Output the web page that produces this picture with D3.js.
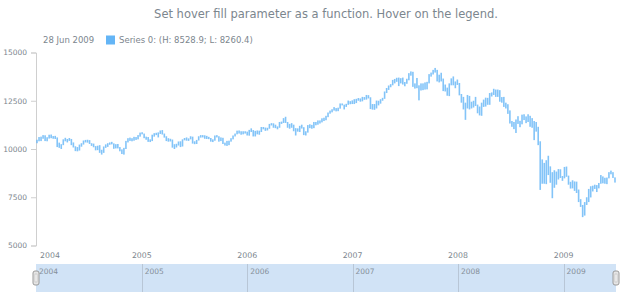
<!DOCTYPE html>
<html>
<head>
<meta charset="utf-8">
<script src="https://cdn.jsdelivr.net/npm/d3@7"></script>
<style>
  html, body { margin: 0; padding: 0; background: #fff; }
  svg { display: block; font-family: "DejaVu Sans", Verdana, sans-serif; }
</style>
</head>
<body>
<svg id="chart" width="620" height="300"></svg>
<script>
// weekly points, first one on 4 Jan 2004, last one on 28 Jun 2009
const firstWeek = new Date(2004, 0, 4);

const high = [
  // 2004
  10480, 10620, 10640, 10720, 10710, 10610, 10740, 10750, 10670, 10680, 10600, 10330, 10250,
  10500, 10580, 10520, 10570, 10520, 10340, 10140, 10100, 10230, 10300, 10440, 10470, 10480,
  10460, 10300, 10280, 10150, 10170, 10200, 9960, 10130, 10240, 10300, 10340, 10370, 10290,
  10250, 10260, 10100, 9980, 10060, 10420, 10560, 10590, 10560, 10630, 10620, 10720, 10850, 10870,
  // 2005
  10800, 10640, 10620, 10500, 10740, 10820, 10840, 10860, 10960, 10980, 10800, 10660, 10560,
  10530, 10490, 10250, 10270, 10390, 10400, 10500, 10570, 10600, 10550, 10660, 10640, 10400,
  10470, 10660, 10720, 10720, 10710, 10680, 10630, 10570, 10500, 10700, 10720, 10660, 10600,
  10580, 10330, 10420, 10430, 10560, 10700, 10800, 10950, 10960, 10920, 10920, 10920, 10900,
  // 2006
  10990, 11070, 10980, 10940, 10960, 10950, 11140, 11140, 11110, 11100, 11300, 11340, 11330,
  11260, 11170, 11400, 11420, 11600, 11670, 11400, 11300, 11340, 11260, 11080, 11070, 11200,
  11260, 11130, 10920, 11240, 11280, 11250, 11400, 11400, 11480, 11480, 11590, 11620, 11720,
  11890, 11990, 12060, 12170, 12120, 12140, 12360, 12360, 12300, 12340, 12510, 12480, 12520,
  // 2007
  12580, 12600, 12640, 12620, 12700, 12690, 12800, 12790, 12680, 12330, 12330, 12510, 12500,
  12580, 12650, 12980, 13160, 13290, 13360, 13580, 13630, 13690, 13700, 13670, 13700, 13470,
  13640, 13930, 14020, 14000, 13400, 13680, 13300, 13400, 13400, 13450, 13480, 13880, 13960,
  14100, 14200, 14100, 13850, 13950, 13650, 13340, 13180, 13400, 13660, 13760, 13500, 13600,
  // 2008
  13420, 12850, 12700, 12400, 12800, 12750, 12450, 12500, 12700, 12300, 12200, 12400, 12560,
  12660, 12650, 12900, 12930, 13120, 13080, 13080, 13050, 12690, 12700, 12400, 12320, 12000,
  11450, 11400, 11530, 11700, 11460, 11780, 11800, 11690, 11800, 11720, 11600, 11450, 11400,
  11150, 10400, 9460, 9280, 9420, 9650, 9100, 8800, 8900, 8830, 8960, 8950, 8600,
  // 2009
  9070, 9090, 8620, 8300, 8380, 8320, 8310, 7900, 7400, 7100, 7250, 7500, 7930,
  8070, 8100, 8150, 8130, 8240, 8650, 8580, 8510, 8520, 8800, 8880, 8800, 8528.9
];

const low = [
  // 2004
  10300, 10400, 10410, 10530, 10410, 10400, 10540, 10560, 10530, 10520, 10100, 10060, 10000,
  10200, 10400, 10340, 10420, 10200, 10080, 9890, 9880, 9920, 10120, 10230, 10340, 10330,
  10260, 10160, 10090, 9930, 9940, 9800, 9710, 9800, 10060, 10110, 10220, 10240, 10010,
  10030, 10030, 9880, 9740, 9710, 10000, 10340, 10420, 10400, 10430, 10470, 10500, 10640, 10760,
  // 2005
  10560, 10480, 10370, 10360, 10410, 10640, 10720, 10600, 10780, 10750, 10590, 10410, 10380,
  10390, 10070, 10000, 10080, 10180, 10100, 10130, 10450, 10430, 10420, 10500, 10280, 10250,
  10260, 10440, 10590, 10600, 10530, 10520, 10510, 10380, 10360, 10430, 10600, 10380, 10410,
  10260, 10180, 10160, 10200, 10380, 10500, 10650, 10760, 10800, 10740, 10760, 10800, 10700,
  // 2006
  10690, 10880, 10650, 10650, 10760, 10740, 10880, 11020, 10940, 10960, 11050, 11220, 11100,
  11080, 11020, 11100, 11300, 11350, 11350, 11100, 11050, 11100, 10920, 10700, 10900, 10880,
  11060, 10720, 10700, 10850, 11080, 11050, 11080, 11230, 11260, 11320, 11380, 11450, 11490,
  11650, 11830, 11900, 11990, 11950, 11960, 12090, 12260, 12050, 12180, 12290, 12320, 12330,
  // 2007
  12330, 12380, 12500, 12450, 12470, 12550, 12560, 12620, 12070, 12040, 12030, 12100, 12260,
  12350, 12500, 12600, 12900, 13060, 13200, 13300, 13400, 13480, 13260, 13400, 13340, 13250,
  13380, 13560, 13800, 13220, 13130, 13150, 12520, 13030, 13050, 13080, 13090, 13400, 13750,
  13860, 13960, 13500, 13450, 13500, 13000, 12980, 12760, 12740, 13300, 13300, 13150, 13320,
  // 2008
  12780, 12400, 12050, 11510, 12100, 12050, 12100, 12150, 12230, 11850, 11740, 11720, 12180,
  12200, 12290, 12290, 12720, 12800, 12700, 12700, 12450, 12400, 12180, 12100, 11820, 11320,
  11150, 11030, 10830, 11300, 11130, 11280, 11500, 11340, 11400, 11150, 11100, 10460, 10900,
  10200, 7880, 8200, 8200, 8180, 8650, 8250, 7450, 7990, 8150, 8420, 8500, 8350,
  // 2009
  8480, 8560, 8150, 7950, 7960, 7830, 7720, 7250, 7000, 6470, 6550, 7100, 7250,
  7490, 7800, 7930, 7770, 7960, 8200, 8220, 8200, 8180, 8480, 8690, 8500, 8260.4
];

const yTicks = [5000, 7500, 10000, 12500, 15000];
const yearLabels = ["2004", "2005", "2006", "2007", "2008", "2009"];

const seriesName = "Series 0";
const title = "Set hover fill parameter as a function. Hover on the legend.";

const color = "#64b5f6";
const textColor = "#7c868e";

const points = high.map((h, i) => ({
  date: d3.timeDay.offset(firstWeek, 7 * i),
  high: h,
  low: low[i]
}));

const svg = d3.select("#chart");
const plotLeft = 36, plotRight = 616, plotTop = 52.5, plotBottom = 245.5;

const halfWeek = 3.5 * 24 * 3600 * 1000;
const x = d3.scaleTime()
  .domain([+points[0].date - halfWeek, +points[points.length - 1].date + halfWeek])
  .range([plotLeft, plotRight]);

const y = d3.scaleLinear()
  .domain([5000, 15000])
  .range([plotBottom, plotTop]);

const years = yearLabels.map(s => new Date(+s, 0, 1));

// title
svg.append("text")
  .attr("x", (plotLeft + plotRight) / 2)
  .attr("y", 18)
  .attr("text-anchor", "middle")
  .attr("fill", textColor)
  .style("font-size", "11.5px")
  .text(title);

// legend
const last = points[points.length - 1];
const fmt = d3.timeFormat("%d %b %Y");
svg.append("text")
  .attr("x", 43).attr("y", 43)
  .attr("fill", textColor)
  .style("font-size", "8.5px")
  .text(fmt(last.date));
svg.append("rect")
  .attr("x", 106).attr("y", 35.5)
  .attr("width", 9).attr("height", 9)
  .attr("fill", color);
svg.append("text")
  .attr("x", 119).attr("y", 43)
  .attr("fill", textColor)
  .style("font-size", "8.5px")
  .text(seriesName + ": (H: " + last.high + "; L: " + last.low + ")");

// y axis
const yAxis = svg.append("g")
  .attr("transform", "translate(" + plotLeft + ",0)")
  .call(d3.axisLeft(y).tickValues(yTicks).tickSize(5).tickPadding(4).tickFormat(d3.format("d")));
yAxis.select(".domain").attr("stroke", "#cfcfcf");
yAxis.selectAll(".tick line").attr("stroke", "#cfcfcf");
yAxis.selectAll(".tick text")
  .attr("fill", textColor)
  .style("font-family", "DejaVu Sans, sans-serif")
  .style("font-size", "7.5px");

// x labels
svg.append("g").selectAll("text")
  .data(years)
  .join("text")
  .attr("x", (d, i) => i === 0 ? 40 : x(d))
  .attr("y", 258)
  .attr("text-anchor", (d, i) => i === 0 ? "start" : "middle")
  .attr("fill", textColor)
  .style("font-size", "7.8px")
  .text(d3.timeFormat("%Y"));

// range columns
svg.append("g").selectAll("rect")
  .data(points)
  .join("rect")
  .attr("x", d => x(d.date) - 0.8)
  .attr("width", 1.6)
  .attr("y", d => y(d.high))
  .attr("height", d => Math.max(1, y(d.low) - y(d.high)))
  .attr("fill", color)
  .attr("fill-opacity", 0.8);

// scroller
const sTop = 264, sBottom = 292;
svg.append("rect")
  .attr("x", plotLeft).attr("y", sTop)
  .attr("width", plotRight - plotLeft).attr("height", sBottom - sTop)
  .attr("fill", "#d1e3f6");
const sc = svg.append("g");
sc.selectAll("line")
  .data(years.slice(1))
  .join("line")
  .attr("x1", d => Math.round(x(d)) + 0.5).attr("x2", d => Math.round(x(d)) + 0.5)
  .attr("y1", sTop).attr("y2", sBottom)
  .attr("stroke", "#b8c6d6");
sc.selectAll("text")
  .data(years)
  .join("text")
  .attr("x", (d, i) => (i === 0 ? plotLeft : x(d)) + 3)
  .attr("y", 274)
  .attr("fill", "#86909a")
  .style("font-size", "7.5px")
  .text(d3.timeFormat("%Y"));

// scroller thumbs
[plotLeft, plotRight].forEach(cx => {
  svg.append("rect")
    .attr("x", cx - 3).attr("y", 271)
    .attr("width", 6).attr("height", 14)
    .attr("rx", 2)
    .attr("fill", "#e6e6e6")
    .attr("stroke", "#9a9a9a");
  svg.append("rect")
    .attr("x", cx - 1).attr("y", 274)
    .attr("width", 2).attr("height", 8)
    .attr("fill", "#fafafa")
    .attr("stroke", "#b0b0b0")
    .attr("stroke-width", 0.5);
});
</script>
</body>
</html>
